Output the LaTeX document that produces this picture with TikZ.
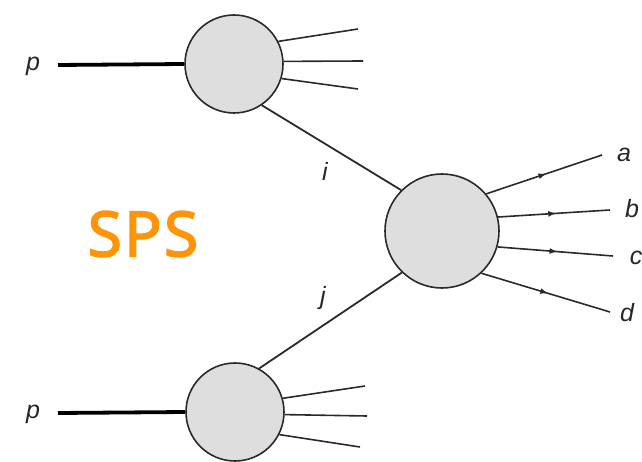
\documentclass[tikz,border=0pt]{standalone}
\usepackage{fontspec}
\setmainfont{Liberation Sans}
\newfontfamily\titlefont[FakeBold=3,LetterSpace=4]{Open Sans}
\usetikzlibrary{arrows.meta,decorations.markings}
\definecolor{blobfill}{HTML}{DEDEDE}
\definecolor{inkline}{HTML}{2A2A2A}
\definecolor{spsorange}{HTML}{FF9408}
\tikzset{
  blob/.style={circle,draw=inkline,line width=1.6pt,fill=blobfill,inner sep=0pt},
  beam/.style={line width=3.8pt,black},
  jet/.style={line width=1.6pt,draw=inkline},
  prop/.style={line width=1.8pt,draw=inkline},
  outgoing/.style={jet,postaction={decorate},decoration={markings,
      mark=at position 0.52 with {\arrow{Latex[length=8pt,width=6pt]}}}},
  lbl/.style={font=\itshape\fontsize{25}{25}\selectfont,text=black!85,inner sep=0pt}
}
\begin{document}
\begin{tikzpicture}[x=1pt,y=-1pt]
\useasboundingbox (0,0) rectangle (642,462);

% the three blobs: two incoming protons and the hard scatter
\node[blob,minimum size=98pt] (top) at (234,64) {};
\node[blob,minimum size=98pt] (bot) at (235,412) {};
\node[blob,minimum size=114pt] (mid) at (442,231) {};

% incoming protons
\node[lbl] (p1) at (33,66) {p};
\node[lbl] (p2) at (33,414) {p};
\coordinate (p1s) at (58,65);
\coordinate (p2s) at (58,413);
\draw[beam] (p1s) -- (top.west);
\draw[beam] (p2s) -- (bot.west);

% proton remnants
\coordinate (t1) at (358,29);
\coordinate (t2) at (363,61);
\coordinate (t3) at (358,89);
\draw[jet] (top.27) -- (t1);
\draw[jet] (top.3) -- (t2);
\draw[jet] (top.-17) -- (t3);
\coordinate (b1) at (365,386);
\coordinate (b2) at (367,416);
\coordinate (b3) at (360,447);
\draw[jet] (bot.16) -- (b1);
\draw[jet] (bot.-3) -- (b2);
\draw[jet] (bot.-27) -- (b3);

% partons entering the hard process
\draw[prop] (top.-56) -- (mid.135);
\draw[prop] (bot.61) -- (mid.226);
\node[lbl] (li) at (325,171) {i};
\node[lbl] (lj) at (323,298) {j};

% final-state particles
\coordinate (ea) at (602,155);
\coordinate (eb) at (610,210);
\coordinate (ec) at (613,256);
\coordinate (ed) at (610,312);
\draw[outgoing] (mid.40) -- (ea);
\draw[outgoing] (mid.14) -- (eb);
\draw[outgoing] (mid.-16) -- (ec);
\draw[outgoing] (mid.-47) -- (ed);
\node[lbl] (la) at (624,155) {a};
\node[lbl] (lb) at (632,209) {b};
\node[lbl] (lc) at (636,258) {c};
\node[lbl] (ld) at (627,313) {d};

% process label
\node[font=\titlefont\fontsize{62}{62}\selectfont,text=spsorange,inner sep=0pt] (sps) at (143,234) {SPS};
\end{tikzpicture}
\end{document}
